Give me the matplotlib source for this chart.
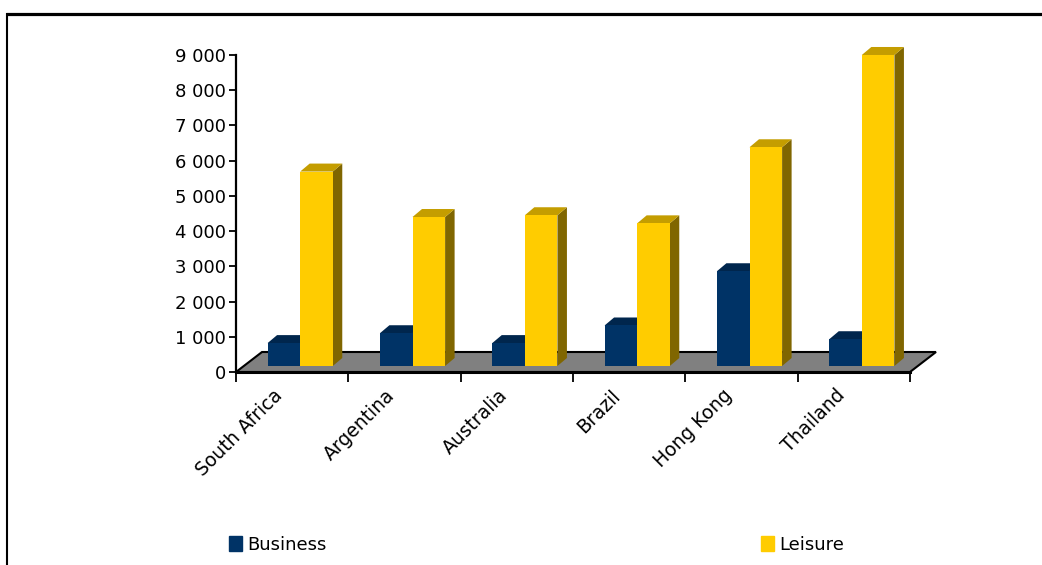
import matplotlib.pyplot as plt
import matplotlib.transforms as mtransforms
from matplotlib.patches import Polygon, Patch
from matplotlib.lines import Line2D

# data
countries = ['South Africa', 'Argentina', 'Australia', 'Brazil', 'Hong Kong', 'Thailand']
business = [650, 930, 650, 1150, 2690, 760]
leisure = [5520, 4230, 4280, 4050, 6210, 8830]
yticks = [0, 1000, 2000, 3000, 4000, 5000, 6000, 7000, 8000, 9000]

# colours: front, top, side
navy = ('#003366', '#00264d', '#001a33')
gold = ('#ffcc00', '#c49d00', '#806600')

W, H = 1042, 565
fig = plt.figure(figsize=(W / 100, H / 100), dpi=100)
plt.rcParams['font.family'] = 'DejaVu Sans'

ax = fig.add_axes([236 / W, 1 - 372 / H, 674 / W, 317 / H])
ax.set_xlim(0, len(countries))
ax.set_ylim(0, 9000)

# data units per pixel
sx = len(countries) / 674
sy = 9000 / 317

# floor
fdx, fdy = 26 * sx, 20 * sy
n = len(countries)
floor = Polygon([(0, 0), (n, 0), (n + fdx, fdy), (fdx, fdy)], closed=True,
                facecolor='#808080', edgecolor='black', lw=1.5, clip_on=False, zorder=1)
ax.add_patch(floor)

# 3d bars
bdx, bdy = 9.5 * sx, 8 * sy      # bar depth
ox, oy = 8 * sx, 6 * sy          # bar position in depth
bw = 32.6 * sx


def bar3d(x0, val, cols):
    x1 = x0 + bw
    top = oy + val
    front = Polygon([(x0, oy), (x1, oy), (x1, top), (x0, top)], facecolor=cols[0],
                    edgecolor='none', clip_on=False, zorder=3)
    lid = Polygon([(x0, top), (x1, top), (x1 + bdx, top + bdy), (x0 + bdx, top + bdy)],
                  facecolor=cols[1], edgecolor='none', clip_on=False, zorder=3)
    side = Polygon([(x1, oy), (x1 + bdx, oy + bdy), (x1 + bdx, top + bdy), (x1, top)],
                   facecolor=cols[2], edgecolor='none', clip_on=False, zorder=3)
    for p in (side, lid, front):
        ax.add_patch(p)


for i in range(n):
    c = i + 0.5 + ox
    bar3d(c - bw, business[i], navy)
    bar3d(c, leisure[i], gold)

# axes
for s in ('top', 'right'):
    ax.spines[s].set_visible(False)
ax.spines['left'].set_linewidth(1.6)
ax.spines['bottom'].set_linewidth(2.2)
ax.spines['bottom'].set_zorder(4)
ax.set_yticks(yticks)
ax.set_yticklabels([f'{v:,}'.replace(',', ' ') for v in yticks], fontsize=13)
ax.tick_params(axis='y', direction='out', length=5, width=1.3, pad=2)

ax.set_xticks(range(n + 1))
ax.set_xticklabels([])
ax.tick_params(axis='x', which='major', direction='out', length=7, width=1.3)
ax.set_xticks([i + 0.5 for i in range(n)], minor=True)
ax.set_xticklabels(countries, minor=True, rotation=45, ha='right', va='top',
                   rotation_mode='anchor', fontsize=13.5)
ax.tick_params(axis='x', which='minor', length=0, pad=10)
shift = mtransforms.ScaledTranslation(-19 / 100, 0, fig.dpi_scale_trans)
for lab in ax.get_xticklabels(minor=True):
    lab.set_transform(lab.get_transform() + shift)

# legend
fig.legend(handles=[Patch(color=navy[0])], labels=['Business'], loc='center left',
           bbox_to_anchor=(229 / W, 1 - 545 / H), frameon=False, fontsize=13,
           handlelength=0.7, handleheight=0.9, handletextpad=0.3, borderpad=0,
           borderaxespad=0)
fig.legend(handles=[Patch(color=gold[0])], labels=['Leisure'], loc='center left',
           bbox_to_anchor=(761 / W, 1 - 545 / H), frameon=False, fontsize=13,
           handlelength=0.7, handleheight=0.9, handletextpad=0.3, borderpad=0,
           borderaxespad=0)

# chart area border
fig.add_artist(Line2D([6 / W, 1], [1 - 14 / H, 1 - 14 / H], color='black', lw=2.3,
                      solid_capstyle='butt', transform=fig.transFigure))
fig.add_artist(Line2D([7 / W, 7 / W], [0, 1 - 13 / H], color='black', lw=1.5,
                      solid_capstyle='butt', transform=fig.transFigure))

fig.savefig('out.png', dpi=100)
